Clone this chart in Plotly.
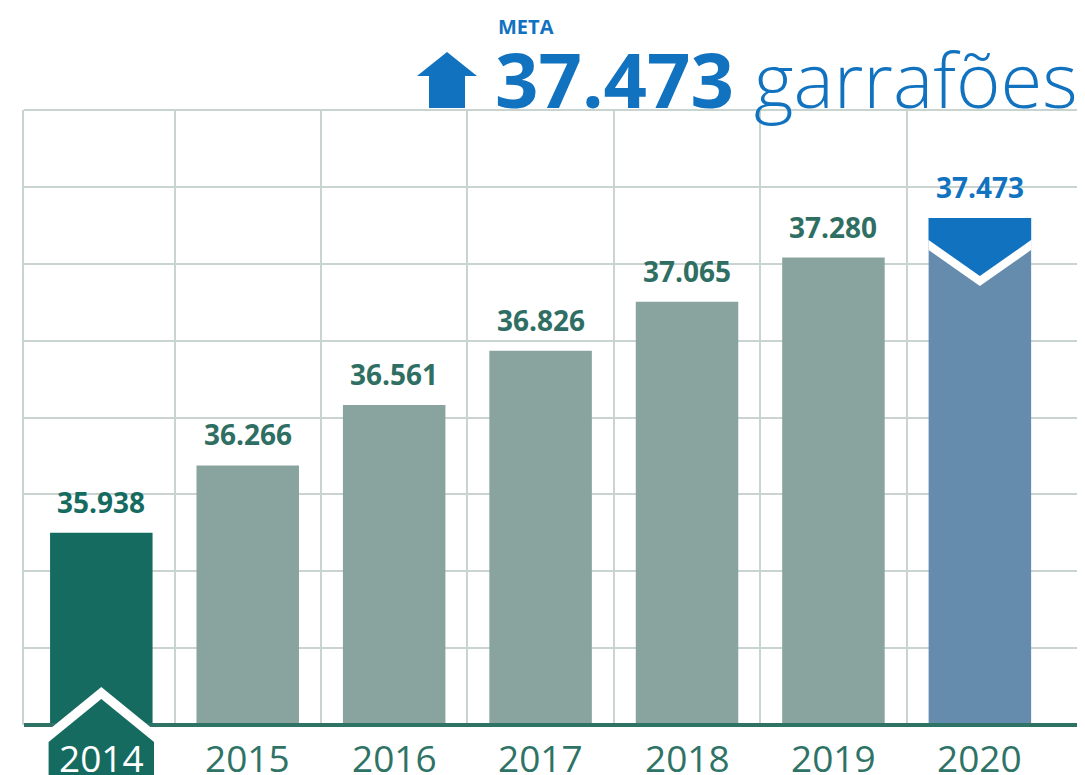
import plotly.graph_objects as go

# ---------------- data ----------------
years = ["2014", "2015", "2016", "2017", "2018", "2019", "2020"]
values = [35938, 36266, 36561, 36826, 37065, 37280, 37473]
value_labels = ["35.938", "36.266", "36.561", "36.826", "37.065", "37.280", "37.473"]
goal_kicker = "META"
goal_number = "37.473"
goal_unit = "garrafões"
y_min, y_max, y_step = 35000, 38000, 375

# ---------------- styles ----------------
GRID = "#C9D4D0"
TEAL_DARK = "#156B60"
TEAL_TEXT = "#2E7366"
BLUE = "#1172BF"
bar_colors = [TEAL_DARK] + ["#89A39E"] * 5 + ["#658CAD"]
label_colors = [TEAL_DARK] + ["#2F6F63"] * 5 + [BLUE]
FONT = "Open Sans"
BAR_W = 0.7

x = list(range(len(years)))

fig = go.Figure(
    go.Bar(
        x=x, y=values, width=BAR_W,
        marker=dict(color=bar_colors, line=dict(width=0)),
        hoverinfo="skip",
    )
)

shapes = []
# top border
shapes.append(dict(type="line", xref="paper", yref="paper", x0=0, x1=1, y0=1, y1=1,
                   line=dict(color=GRID, width=2), layer="below"))
# baseline
shapes.append(dict(type="line", xref="paper", yref="paper", x0=0, x1=1, y0=0, y1=0,
                   line=dict(color=TEAL_TEXT, width=4), layer="above"))

# first-year "house" label (white chevron + teal pentagon), pixel heights below baseline
hx = BAR_W / 2 + 0.01
x0 = x[0]
shapes.append(dict(type="path", xref="x", yref="paper", ysizemode="pixel", yanchor=0,
                   path=f"M {x0-hx},-70 L {x0-hx},-5 L {x0},38 L {x0+hx},-5 L {x0+hx},-70 Z",
                   fillcolor="white", line=dict(width=0), layer="above"))
shapes.append(dict(type="path", xref="x", yref="paper", ysizemode="pixel", yanchor=0,
                   path=f"M {x0-hx},-70 L {x0-hx},-17 L {x0},26 L {x0+hx},-17 L {x0+hx},-70 Z",
                   fillcolor=TEAL_DARK, line=dict(width=0), layer="above"))

# goal bar cap (white chevron + blue cap)
xl, xc, xr = x[-1] - BAR_W / 2, x[-1], x[-1] + BAR_W / 2
shapes.append(dict(type="path", xref="x", yref="y", ysizemode="pixel", yanchor=values[-1],
                   path=f"M {xl},0 L {xr},0 L {xr},-32 L {xc},-68 L {xl},-32 Z",
                   fillcolor="white", line=dict(width=0), layer="above"))
shapes.append(dict(type="path", xref="x", yref="y", ysizemode="pixel", yanchor=values[-1],
                   path=f"M {xl},0 L {xr},0 L {xr},-22 L {xc},-58 L {xl},-22 Z",
                   fillcolor=BLUE, line=dict(width=0), layer="above"))

# header arrow icon (pixels relative to plot top-left)
shapes.append(dict(type="path", xref="paper", yref="paper", xsizemode="pixel", ysizemode="pixel",
                   xanchor=0, yanchor=1,
                   path="M 393,34 L 423,58 L 453,34 L 441,34 L 441,2 L 405,2 L 405,34 Z",
                   fillcolor=BLUE, line=dict(width=0), layer="above"))

annotations = []
# value labels
for i, (v, t, c) in enumerate(zip(values, value_labels, label_colors)):
    annotations.append(dict(x=i, y=v, xref="x", yref="y", text=t, showarrow=False,
                            yanchor="middle", xanchor="center", yshift=31,
                            font=dict(family=FONT, size=28, color=c, weight=700)))
# year labels
for i, yr in enumerate(years):
    annotations.append(dict(x=i, y=0, xref="x", yref="paper", text=yr, showarrow=False,
                            yanchor="middle", xanchor="center", yshift=-32,
                            font=dict(family=FONT, size=37, color="white" if i == 0 else TEAL_TEXT)))
# header
annotations.append(dict(x=0, y=1, xref="paper", yref="paper", text=goal_kicker, showarrow=False,
                        xanchor="left", yanchor="bottom", xshift=472, yshift=68,
                        font=dict(family=FONT, size=20, color=BLUE, weight=700)))
annotations.append(dict(x=0, y=1, xref="paper", yref="paper", text=goal_number, showarrow=False,
                        xanchor="left", yanchor="bottom", xshift=469, yshift=-22,
                        font=dict(family=FONT, size=76, color=BLUE, weight=700)))
annotations.append(dict(x=0, y=1, xref="paper", yref="paper", text=goal_unit, showarrow=False,
                        xanchor="left", yanchor="bottom", xshift=728, yshift=-22,
                        font=dict(family=FONT, size=76, color=BLUE, weight=300)))

# the page body adds an 8px margin; size the figure so the plot lands where the reference has it
fig.update_layout(
    width=1077, height=767,
    margin=dict(l=16, r=4, t=102, b=50),
    plot_bgcolor="white", paper_bgcolor="white",
    showlegend=False,
    shapes=shapes,
    annotations=annotations,
    xaxis=dict(range=[-0.528, 6.677], tickmode="array",
               tickvals=[i + 0.5 for i in x[:-1]],
               showticklabels=False, ticks="", showgrid=True, gridcolor=GRID, gridwidth=2,
               showline=False, zeroline=False, fixedrange=True),
    yaxis=dict(range=[y_min, y_max], tickmode="linear", tick0=y_min, dtick=y_step,
               showticklabels=False, ticks="", showgrid=True, gridcolor=GRID, gridwidth=2,
               showline=True, mirror=True, linecolor=GRID, linewidth=2,
               zeroline=False, fixedrange=True),
)

fig.write_html("out.html")
